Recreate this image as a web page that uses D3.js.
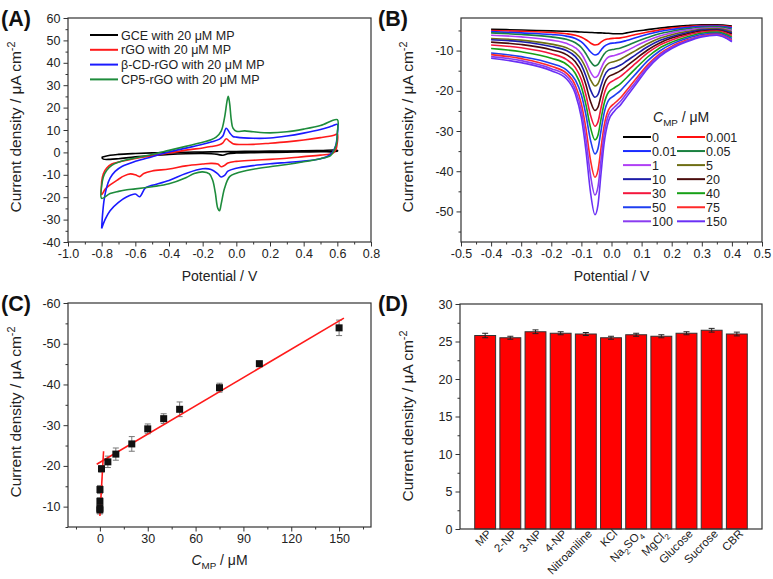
<!DOCTYPE html>
<html>
<head>
<meta charset="utf-8">
<script src="https://cdn.jsdelivr.net/npm/d3@7"></script>
<style>
  body { margin: 0; background: #fff; }
  svg { display: block; font-family: "Liberation Sans", Arial, sans-serif; }
  .ax line { stroke: #333; stroke-width: 1; }
  .ax text { font-size: 12.5px; fill: #222; }
</style>
</head>
<body>
<svg id="chart" width="773" height="579"></svg>
<script>
// ---------- (A) cyclic voltammograms: [potential V, current µA cm-2] ----------
const cvNames = ["GCE with 20 μM MP", "rGO with 20 μM MP", "β-CD-rGO with 20 μM MP", "CP5-rGO with 20 μM MP"];
const cvColors = ["#000000", "#ff1a1a", "#1a1aff", "#1e8c3c"];
const cvGCE = [[-0.80,-2.2],[-0.75,-1.3],[-0.70,-0.9],[-0.60,-0.5],[-0.50,-0.2],[-0.40,0.0],[-0.30,0.1],[-0.20,0.2],[-0.10,0.3],[0.00,0.4],[0.10,0.5],[0.20,0.6],[0.30,0.6],[0.40,0.7],[0.50,0.8],[0.60,0.9],
  [0.60,0.5],[0.50,0.3],[0.40,0.2],[0.30,0.1],[0.20,0.0],[0.10,-0.1],[0.00,-0.3],[-0.05,-0.6],[-0.08,-1.3],[-0.11,-0.9],[-0.15,-0.6],[-0.20,-0.5],[-0.30,-0.6],[-0.40,-0.9],[-0.50,-1.4],[-0.60,-2.0],[-0.70,-2.8],[-0.75,-3.1],[-0.79,-3.0],[-0.80,-2.2]];
const cvRGO = [[-0.80,-13.0],[-0.79,-9.5],[-0.77,-7.0],[-0.74,-5.2],[-0.70,-4.3],[-0.65,-3.5],[-0.60,-2.7],[-0.50,-1.5],[-0.40,-0.3],[-0.30,1.0],[-0.20,2.0],[-0.15,2.6],[-0.10,3.4],[-0.08,4.3],[-0.06,6.1],[-0.04,4.9],[-0.02,3.9],[0.00,3.6],[0.10,3.6],[0.20,4.1],[0.30,4.7],[0.40,5.5],[0.50,6.6],[0.58,7.7],[0.60,8.2],
  [0.60,4.5],[0.59,1.0],[0.57,-0.5],[0.50,-1.2],[0.40,-1.9],[0.30,-2.6],[0.20,-3.1],[0.10,-3.5],[0.00,-4.0],[-0.05,-4.7],[-0.07,-5.8],[-0.09,-6.4],[-0.11,-5.2],[-0.15,-4.9],[-0.20,-5.2],[-0.30,-6.0],[-0.40,-7.4],[-0.50,-8.3],[-0.55,-9.4],[-0.575,-10.8],[-0.60,-10.0],[-0.63,-9.6],[-0.67,-10.6],[-0.70,-12.0],[-0.75,-14.5],[-0.78,-16.5],[-0.80,-18.8],[-0.80,-13.0]];
const cvCD = [[-0.80,-34.0],[-0.795,-28.0],[-0.785,-21.0],[-0.77,-15.5],[-0.75,-11.5],[-0.72,-8.5],[-0.68,-6.3],[-0.60,-4.0],[-0.50,-1.9],[-0.40,0.2],[-0.30,1.9],[-0.20,3.6],[-0.15,4.6],[-0.10,5.9],[-0.08,7.3],[-0.06,10.8],[-0.04,8.8],[-0.02,7.1],[0.00,6.8],[0.10,6.3],[0.20,6.4],[0.30,7.3],[0.40,8.6],[0.50,10.2],[0.57,11.8],[0.60,12.5],
  [0.60,8.0],[0.59,3.0],[0.57,0.0],[0.54,-1.8],[0.50,-2.8],[0.40,-3.9],[0.30,-4.5],[0.20,-5.1],[0.10,-5.9],[0.00,-7.1],[-0.05,-8.4],[-0.07,-10.3],[-0.09,-11.0],[-0.11,-9.6],[-0.15,-7.6],[-0.20,-7.3],[-0.30,-9.4],[-0.40,-12.5],[-0.50,-14.7],[-0.54,-15.8],[-0.575,-19.8],[-0.60,-18.6],[-0.65,-19.8],[-0.70,-22.3],[-0.75,-26.0],[-0.78,-30.0],[-0.80,-34.0]];
const cvCP5 = [[-0.80,-15.0],[-0.79,-11.0],[-0.77,-8.0],[-0.74,-5.8],[-0.70,-4.4],[-0.65,-3.3],[-0.60,-2.5],[-0.50,-0.9],[-0.40,0.9],[-0.30,2.7],[-0.20,4.5],[-0.15,5.6],[-0.12,6.8],[-0.09,9.5],[-0.07,15.5],[-0.055,23.0],[-0.048,25.0],[-0.04,22.0],[-0.03,14.5],[-0.02,10.8],[0.00,9.4],[0.05,9.6],[0.10,9.2],[0.20,8.7],[0.30,9.2],[0.40,10.4],[0.50,12.0],[0.60,14.6],
  [0.60,9.0],[0.595,4.0],[0.58,0.8],[0.56,-1.4],[0.50,-2.8],[0.40,-4.2],[0.30,-5.4],[0.20,-6.4],[0.10,-7.5],[0.03,-8.6],[0.00,-9.3],[-0.04,-10.8],[-0.07,-16.0],[-0.09,-23.0],[-0.10,-26.0],[-0.11,-25.0],[-0.125,-18.0],[-0.14,-12.5],[-0.16,-9.6],[-0.20,-8.7],[-0.25,-9.4],[-0.30,-11.3],[-0.40,-14.0],[-0.50,-15.3],[-0.60,-16.3],[-0.65,-16.7],[-0.70,-17.4],[-0.75,-18.4],[-0.80,-20.5],[-0.80,-15.0]];
const cvData = [cvGCE, cvRGO, cvCD, cvCP5];

// ---------- (B) DPV curves ----------
const dpvE = [-0.4,-0.3,-0.2,-0.15,-0.12,-0.1,-0.085,-0.07,-0.055,-0.045,-0.035,-0.025,-0.01,0.01,0.03,0.05,0.08,0.12,0.16,0.2,0.25,0.3,0.35,0.4];
const dpvConc = ["0","0.001","0.01","0.05","1","5","10","20","30","40","50","75","100","150"];
const dpvColors = ["#000000","#ff1010","#1a2cff","#1a8040","#b040f5","#6e6e14","#1c1ca8","#4a0c0c","#f4163c","#16a016","#1f3ff0","#ff2a2a","#8a3cf0","#6a30f5"];
const dpvJ = [
  [-4.7,-4.9,-5.1,-5.2,-5.3,-5.4,-5.45,-5.5,-5.55,-5.6,-5.6,-5.65,-5.7,-5.8,-5.8,-5.6,-5.2,-4.8,-4.4,-4.1,-3.8,-3.6,-3.6,-3.9],
  [-5.0,-5.2,-5.5,-5.8,-6.2,-6.7,-7.3,-8.1,-8.6,-8.5,-7.9,-7.4,-7.1,-6.95,-6.85,-6.55,-6.0,-5.4,-4.85,-4.4,-4.05,-3.8,-3.75,-4.1],
  [-5.3,-5.6,-6.0,-6.4,-7.0,-7.85,-8.95,-10.3,-11.1,-10.85,-9.9,-9.0,-8.35,-8.1,-7.9,-7.5,-6.8,-5.95,-5.25,-4.75,-4.3,-3.95,-3.9,-4.35],
  [-5.6,-6.0,-6.6,-7.2,-8.05,-9.25,-10.8,-12.7,-13.8,-13.45,-12.15,-10.9,-9.95,-9.65,-9.35,-8.8,-7.85,-6.75,-5.8,-5.2,-4.6,-4.2,-4.1,-4.7],
  [-6.2,-6.6,-7.4,-8.2,-9.3,-10.8,-12.8,-15.3,-16.7,-16.2,-14.5,-12.9,-11.6,-11.2,-10.75,-10.05,-8.9,-7.5,-6.4,-5.6,-4.9,-4.45,-4.35,-5.0],
  [-7.0,-7.4,-8.4,-9.3,-10.55,-12.25,-14.4,-17.2,-18.8,-18.25,-16.4,-14.55,-13.2,-12.7,-12.15,-11.3,-10.0,-8.3,-6.95,-6.05,-5.25,-4.7,-4.55,-5.3],
  [-7.3,-7.8,-9.0,-10.0,-11.5,-13.6,-16.3,-19.7,-21.6,-20.95,-18.7,-16.5,-14.8,-14.25,-13.6,-12.6,-11.05,-9.05,-7.5,-6.5,-5.55,-4.9,-4.75,-5.6],
  [-7.9,-8.5,-9.8,-11.0,-12.8,-15.25,-18.5,-22.6,-24.9,-24.1,-21.3,-18.6,-16.5,-15.8,-15.0,-13.85,-12.1,-9.85,-8.1,-6.9,-5.9,-5.15,-4.95,-5.9],
  [-8.6,-9.3,-10.8,-12.2,-14.25,-17.2,-21.05,-26.0,-28.8,-27.75,-24.3,-20.95,-18.3,-17.3,-16.4,-15.15,-13.2,-10.6,-8.65,-7.35,-6.2,-5.4,-5.15,-6.25],
  [-9.5,-10.3,-11.9,-13.4,-15.7,-19.05,-23.45,-29.05,-32.2,-31.05,-27.1,-23.35,-20.35,-19.25,-18.2,-16.75,-14.5,-11.6,-9.35,-7.9,-6.6,-5.7,-5.4,-6.65],
  [-10.6,-11.5,-13.2,-14.8,-17.35,-21.05,-25.95,-32.2,-35.7,-34.4,-30.0,-25.75,-22.4,-21.15,-19.95,-18.3,-15.85,-12.55,-10.1,-8.4,-7.0,-6.0,-5.7,-7.0],
  [-11.0,-12.0,-13.9,-15.6,-18.7,-23.3,-29.35,-37.15,-41.5,-39.8,-34.3,-28.95,-24.75,-23.1,-21.75,-19.9,-17.15,-13.55,-10.8,-8.95,-7.4,-6.3,-5.95,-7.4],
  [-11.5,-12.5,-14.5,-16.3,-19.75,-24.95,-31.95,-40.9,-45.9,-43.9,-37.35,-31.1,-26.05,-24.05,-22.6,-20.7,-17.85,-14.0,-11.15,-9.25,-7.6,-6.45,-6.05,-7.6],
  [-11.9,-13.0,-15.0,-17.0,-20.8,-26.75,-34.8,-45.1,-50.8,-48.4,-40.75,-33.4,-27.5,-25.0,-23.5,-21.5,-18.5,-14.5,-11.5,-9.5,-7.8,-6.6,-6.2,-7.8]
];

// ---------- (C) calibration ----------
const calConc = [0, 0.001, 0.01, 0.05, 1, 5, 10, 20, 30, 40, 50, 75, 100, 150];
const calJ    = [-9.2, -9.6, -11.3, -14.2, -19.3, -21.0, -22.9, -25.4, -29.1, -31.6, -33.9, -39.2, -45.1, -53.9];
const calErr  = [1.0, 1.0, 0.9, 1.0, 0.8, 1.4, 1.5, 1.8, 1.2, 1.2, 1.8, 1.1, 0.6, 1.9];
const fitLow  = [[0, -7.7], [2.3, -23.6]];
const fitHigh = [[-2, -20.4], [153, -56.3]];

// ---------- (D) interference ----------
const intCats = ["MP","2-NP","3-NP","4-NP","Nitroaniline","KCl","Na_2SO_4","MgCl_2","Glucose","Sucrose","CBR"];
const intVals = [25.8, 25.5, 26.3, 26.1, 26.0, 25.5, 25.9, 25.7, 26.1, 26.5, 26.0];
const intErr  = [0.3, 0.2, 0.25, 0.2, 0.2, 0.2, 0.2, 0.2, 0.2, 0.25, 0.25];

const svg = d3.select("#chart");
const fix = s => s.replace("\u2212", "-");

// text with sub/superscript pieces: [text, kind]
function rich(t, parts, fs) {
  let shift = 0;
  parts.forEach(([s, k]) => {
    const ts = t.append("tspan").text(s);
    const target = k === "sub" ? fs * 0.32 : k === "sup" ? -fs * 0.42 : 0;
    ts.attr("dy", target - shift);
    shift = target;
    if (k === "sub" || k === "sup") ts.attr("font-size", fs * 0.7);
    if (k === "it") ts.attr("font-style", "italic");
  });
}

function axes(x, y, o) {
  const [x0, x1] = x.range(), [y0, y1] = y.range();
  const g = svg.append("g");
  if (o.xMin) g.append("g").attr("class", "ax").attr("transform", `translate(0,${y0})`)
    .call(d3.axisBottom(x).tickValues(o.xMin).tickSize(2.5).tickFormat(""));
  if (o.xMaj) g.append("g").attr("class", "ax").attr("transform", `translate(0,${y0})`)
    .call(d3.axisBottom(x).tickValues(o.xMaj).tickSize(4.5).tickPadding(3).tickFormat(o.xFmt));
  g.append("g").attr("class", "ax").attr("transform", `translate(${x0},0)`)
    .call(d3.axisLeft(y).tickValues(o.yMin).tickSize(2.5).tickFormat(""));
  g.append("g").attr("class", "ax").attr("transform", `translate(${x0},0)`)
    .call(d3.axisLeft(y).tickValues(o.yMaj).tickSize(4.5).tickPadding(3).tickFormat(o.yFmt));
  g.selectAll(".domain").remove();
  return g;
}
function frame(x, y) {
  const [x0, x1] = x.range(), [y0, y1] = y.range();
  svg.append("rect").attr("x", x0).attr("y", y1).attr("width", x1 - x0).attr("height", y0 - y1)
    .attr("fill", "none").attr("stroke", "#333").attr("stroke-width", 1.2);
}
function yTitle(cx, cy) {
  const t = svg.append("text").attr("transform", `translate(${cx},${cy}) rotate(-90)`)
    .attr("text-anchor", "middle").attr("font-size", 15.5).attr("fill", "#222");
  rich(t, [["Current density / μA cm", ""], ["-2", "sup"]], 15.5);
}
function panelLabel(s, x, y) {
  svg.append("text").attr("x", x).attr("y", y).attr("font-size", 21.5).attr("font-weight", "bold")
    .attr("fill", "#111").text(s);
}

// ================= Panel A =================
const xA = d3.scaleLinear().domain([-1.0, 0.8]).range([68, 371]);
const yA = d3.scaleLinear().domain([-40, 60]).range([242, 18]);
axes(xA, yA, {
  xMaj: d3.range(-1.0, 0.81, 0.2), xMin: d3.range(-0.9, 0.8, 0.2), xFmt: d => fix(d3.format(".1f")(d)),
  yMaj: d3.range(-40, 61, 10), yMin: d3.range(-35, 60, 10), yFmt: d => fix(d3.format("d")(d))
});
const lineA = d3.line().x(d => xA(d[0])).y(d => yA(d[1])).curve(d3.curveCatmullRom.alpha(0.5));
cvData.forEach((c, i) => {
  svg.append("path").datum(c).attr("d", lineA).attr("fill", "none")
    .attr("stroke", cvColors[i]).attr("stroke-width", 1.6);
});
frame(xA, yA);
cvNames.forEach((n, i) => {
  const yy = 35 + i * 14.8;
  svg.append("line").attr("x1", 90).attr("x2", 118).attr("y1", yy).attr("y2", yy)
    .attr("stroke", cvColors[i]).attr("stroke-width", 2);
  svg.append("text").attr("x", 121).attr("y", yy + 4.5).attr("font-size", 12.5).attr("fill", "#222").text(n);
});
yTitle(21, 127);
svg.append("text").attr("x", 219.5).attr("y", 281).attr("text-anchor", "middle")
  .attr("font-size", 14).attr("fill", "#222").text("Potential / V");
panelLabel("(A)", 1, 26);

// ================= Panel B =================
const xB = d3.scaleLinear().domain([-0.5, 0.5]).range([461, 762]);
const yB = d3.scaleLinear().domain([-57.6, -1.9]).range([242, 18]);
axes(xB, yB, {
  xMaj: d3.range(-0.5, 0.51, 0.1), xMin: d3.range(-0.45, 0.5, 0.1), xFmt: d => fix(d3.format(".1f")(d)),
  yMaj: d3.range(-50, -9, 10), yMin: d3.range(-55, -4, 10), yFmt: d => fix(d3.format("d")(d))
});
const lineB = d3.line().x(d => xB(d[0])).y(d => yB(d[1])).curve(d3.curveMonotoneX);
dpvJ.forEach((row, i) => {
  svg.append("path").datum(row.map((v, k) => [dpvE[k], v])).attr("d", lineB)
    .attr("fill", "none").attr("stroke", dpvColors[i]).attr("stroke-width", 1.6);
});
frame(xB, yB);
{
  const t = svg.append("text").attr("x", 653).attr("y", 122).attr("font-size", 14).attr("fill", "#222");
  rich(t, [["C", "it"], ["MP", "sub"], [" / μM", ""]], 14);
  dpvConc.forEach((c, i) => {
    const col = i % 2, row = Math.floor(i / 2);
    const yy = 137 + row * 14.05;
    const lx = col ? 677 : 623;
    svg.append("line").attr("x1", lx).attr("x2", lx + 28).attr("y1", yy).attr("y2", yy)
      .attr("stroke", dpvColors[i]).attr("stroke-width", 2);
    svg.append("text").attr("x", lx + 29).attr("y", yy + 4.5).attr("font-size", 12.5).attr("fill", "#222").text(c);
  });
}
yTitle(413, 127);
svg.append("text").attr("x", 611.5).attr("y", 281).attr("text-anchor", "middle")
  .attr("font-size", 14).attr("fill", "#222").text("Potential / V");
panelLabel("(B)", 378, 26);

// ================= Panel C =================
const xC = d3.scaleLinear().domain([-20, 170]).range([68, 371]);
const yC = d3.scaleLinear().domain([-5, -60]).range([527, 303]);
axes(xC, yC, {
  xMaj: d3.range(0, 151, 30), xMin: d3.range(-15, 170, 30), xFmt: d3.format("d"),
  yMaj: d3.range(-60, -9, 10), yMin: d3.range(-55, -4, 10), yFmt: d => fix(d3.format("d")(d))
});
const errC = svg.append("g").attr("stroke", "#777").attr("stroke-width", 1);
calConc.forEach((c, i) => {
  const cx = xC(c), ya = yC(calJ[i] - calErr[i]), yb = yC(calJ[i] + calErr[i]);
  errC.append("line").attr("x1", cx).attr("x2", cx).attr("y1", ya).attr("y2", yb);
  errC.append("line").attr("x1", cx - 3).attr("x2", cx + 3).attr("y1", ya).attr("y2", ya);
  errC.append("line").attr("x1", cx - 3).attr("x2", cx + 3).attr("y1", yb).attr("y2", yb);
});
const lineC = d3.line().x(d => xC(d[0])).y(d => yC(d[1]));
[fitLow, fitHigh].forEach(f => svg.append("path").datum(f).attr("d", lineC)
  .attr("stroke", "#ff1a1a").attr("stroke-width", 1.6).attr("fill", "none"));
svg.append("g").selectAll("rect").data(calConc).join("rect")
  .attr("x", (d) => xC(d) - 3.5).attr("y", (d, i) => yC(calJ[i]) - 3.5)
  .attr("width", 7).attr("height", 7).attr("fill", "#111");
frame(xC, yC);
yTitle(21, 412);
{
  const t = svg.append("text").attr("x", 219.5).attr("y", 565).attr("text-anchor", "middle")
    .attr("font-size", 14).attr("fill", "#222");
  rich(t, [["C", "it"], ["MP", "sub"], [" / μM", ""]], 14);
}
panelLabel("(C)", 1, 311);

// ================= Panel D =================
const xD = d3.scaleBand().domain(intCats).range([460, 762]).paddingInner(0.17).paddingOuter(0.585);
const yD = d3.scaleLinear().domain([0, 30]).range([529, 304]);
axes(xD, yD, {
  yMaj: d3.range(0, 31, 5), yMin: d3.range(2.5, 30, 5), yFmt: d3.format("d")
});
svg.append("g").selectAll("rect").data(intCats).join("rect")
  .attr("x", d => xD(d)).attr("width", xD.bandwidth())
  .attr("y", (d, i) => yD(intVals[i])).attr("height", (d, i) => yD(0) - yD(intVals[i]))
  .attr("fill", "#ff0000").attr("stroke", "#333").attr("stroke-width", 1);
const errD = svg.append("g").attr("stroke", "#222").attr("stroke-width", 1);
intCats.forEach((c, i) => {
  const cx = xD(c) + xD.bandwidth() / 2, ya = yD(intVals[i] - intErr[i]), yb = yD(intVals[i] + intErr[i]);
  errD.append("line").attr("x1", cx).attr("x2", cx).attr("y1", ya).attr("y2", yb);
  errD.append("line").attr("x1", cx - 3).attr("x2", cx + 3).attr("y1", ya).attr("y2", ya);
  errD.append("line").attr("x1", cx - 3).attr("x2", cx + 3).attr("y1", yb).attr("y2", yb);
});
frame(xD, yD);
intCats.forEach(c => {
  const cx = xD(c) + xD.bandwidth() / 2;
  const t = svg.append("text").attr("transform", `translate(${cx + 7},${534.5}) rotate(-45)`)
    .attr("text-anchor", "end").attr("font-size", 11.5).attr("fill", "#222");
  const parts = c.split(/_(\d)/).map((s, k) => [s, k % 2 ? "sub" : ""]).filter(p => p[0] !== "");
  rich(t, parts, 11.5);
});
yTitle(413, 416);
panelLabel("(D)", 378, 311);
</script>
</body>
</html>
